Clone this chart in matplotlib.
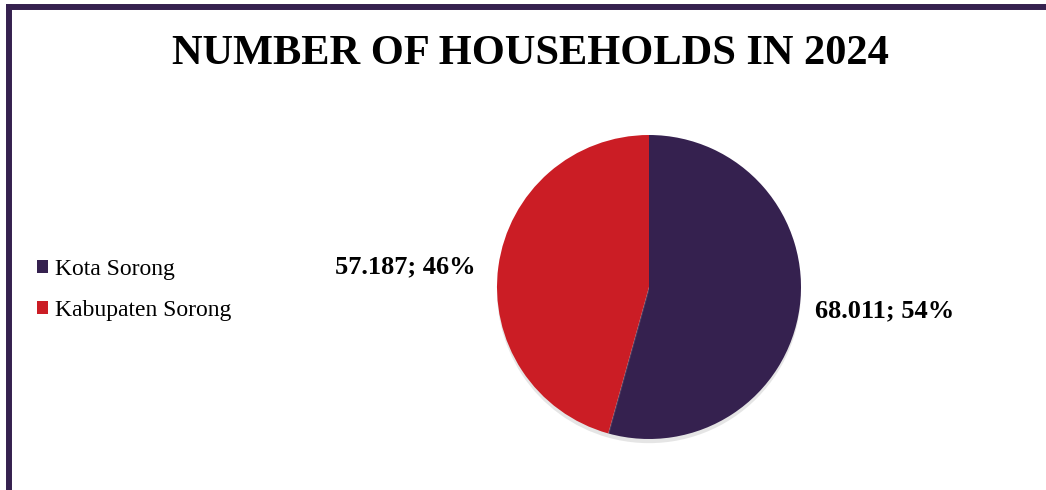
import matplotlib.pyplot as plt
import matplotlib.patheffects as pe
from matplotlib.lines import Line2D
from matplotlib.patches import Patch

regions = ["Kota Sorong", "Kabupaten Sorong"]
households = [68011, 57187]
colors = ["#35214F", "#CB1D25"]
title = "NUMBER OF HOUSEHOLDS IN 2024"

W, H = 1046, 490
fig = plt.figure(figsize=(W / 100, H / 100), dpi=100)
fig.patch.set_facecolor("white")

# pie axes: centre (649, 287) px, radius 152 px
cx, cy, r = 649, 287, 152
ax = fig.add_axes([(cx - r) / W, 1 - (cy + r) / H, 2 * r / W, 2 * r / H])

total = sum(households)
labels = []
for v in households:
    labels.append(f"{v:,}".replace(",", ".") + f"; {round(v / total * 100)}%")

wedges, texts = ax.pie(households, colors=colors, startangle=90, counterclock=False,
                       labels=labels, labeldistance=1.56, radius=1,
                       wedgeprops=dict(linewidth=0))
for w in wedges:
    w.set_path_effects([pe.SimplePatchShadow(offset=(0, -3), shadow_rgbFace="#999999", alpha=0.25),
                        pe.Normal()])
# label positions as in the reference
label_pos = [(1.553, -0.158), (-1.605, 0.13)]
for t, p in zip(texts, label_pos):
    t.set_position(p)
    t.set_fontfamily("Liberation Serif")
    t.set_fontweight("bold")
    t.set_fontsize(19)
    t.set_ha("center")
    t.set_va("center")
ax.set_xlim(-1, 1)
ax.set_ylim(-1, 1)
ax.set_aspect("equal")
ax.axis("off")

fig.text(530 / W, 1 - 54 / H, title, ha="center", va="center",
         fontfamily="Liberation Serif", fontweight="bold", fontsize=30.5)

handles = [Patch(facecolor=c, edgecolor="none") for c in colors]
fig.legend(handles, regions, loc="center left", bbox_to_anchor=(16 / W, 1 - 290 / H),
           frameon=False, handlelength=0.47, handleheight=0.47, handletextpad=0.3,
           labelspacing=0.85, prop={"family": "Liberation Serif", "size": 17})

# frame border (top and left)
fig.add_artist(Line2D([6 / W, 1], [1 - 7 / H, 1 - 7 / H], transform=fig.transFigure,
                      color="#35214F", linewidth=4.3, solid_capstyle="butt"))
fig.add_artist(Line2D([9 / W, 9 / W], [0, 1 - 4 / H], transform=fig.transFigure,
                      color="#35214F", linewidth=4.3, solid_capstyle="butt"))

fig.savefig("out.png", dpi=100)
